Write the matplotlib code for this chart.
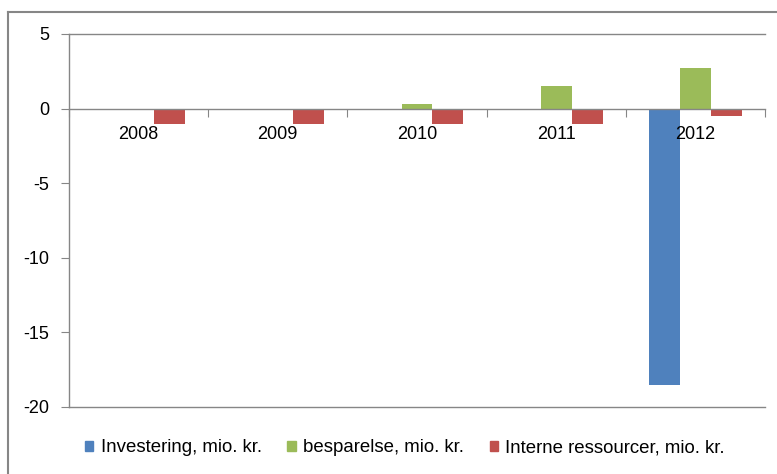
import matplotlib
matplotlib.use("Agg")
import matplotlib.pyplot as plt
from matplotlib.lines import Line2D
import numpy as np

plt.rcParams['font.family'] = ['Liberation Sans', 'DejaVu Sans']

years = ["2008", "2009", "2010", "2011", "2012"]
series_names = ["Investering, mio. kr.", "besparelse, mio. kr.", "Interne ressourcer, mio. kr."]
investering = [0, 0, 0, 0, -18.5]
besparelse = [0, 0, 0.3, 1.5, 2.7]
interne = [-1, -1, -1, -1, -0.5]
colors = ["#4F81BD", "#9BBB59", "#C0504D"]
yticks = [5, 0, -5, -10, -15, -20]

W, H = 777, 474
fig = plt.figure(figsize=(W / 100, H / 100), dpi=100)
ax = fig.add_axes([69 / W, 1 - 407 / H, 696 / W, (407 - 34) / H])

x = np.arange(len(years))
bw = 0.222
for k, (vals, name, c) in enumerate(zip([investering, besparelse, interne], series_names, colors)):
    ax.bar(x + (k - 1) * bw, vals, width=bw, color=c, label=name, zorder=1)

ax.set_xlim(-0.5, len(years) - 0.5)
ax.set_ylim(-20, 5)
ax.set_yticks(yticks)
ax.set_yticklabels([str(v) for v in yticks])

gray = "#868686"
for s in ["top", "left"]:
    ax.spines[s].set_color(gray)
    ax.spines[s].set_linewidth(1.0)
ax.spines["right"].set_visible(False)
ax.spines["bottom"].set_position(("data", 0))
ax.spines["bottom"].set_color(gray)
ax.spines["bottom"].set_linewidth(1.0)
ax.spines["bottom"].set_zorder(3)
ax.axhline(-20, color=gray, lw=1.0, clip_on=False)

ax.set_xticks(np.arange(len(years) + 1) - 0.5)
ax.set_xticklabels([])
ax.set_xticks(x, minor=True)
ax.set_xticklabels(years, minor=True)
ax.tick_params(axis="x", which="major", direction="out", length=6, color=gray)
ax.tick_params(axis="x", which="minor", length=0, pad=12.5, labelsize=13)
ax.tick_params(axis="y", direction="out", length=6, color=gray, labelsize=13, pad=8)
ax.xaxis.set_zorder(4)

handles = [plt.Rectangle((0, 0), 1, 1, color=c) for c in colors]
fig.legend(handles, series_names, loc="center", bbox_to_anchor=(405 / W, 1 - 448 / H),
           ncol=3, frameon=False, fontsize=13.4, handlelength=0.45, handleheight=0.5,
           handletextpad=0.4, columnspacing=1.37)

fig.add_artist(Line2D([8 / W, 8 / W], [0, 1 - 12 / H], color=gray, lw=1.5, transform=fig.transFigure))
fig.add_artist(Line2D([8 / W, 1], [1 - 12 / H, 1 - 12 / H], color=gray, lw=1.5, transform=fig.transFigure))

fig.savefig("out.png", dpi=100)
